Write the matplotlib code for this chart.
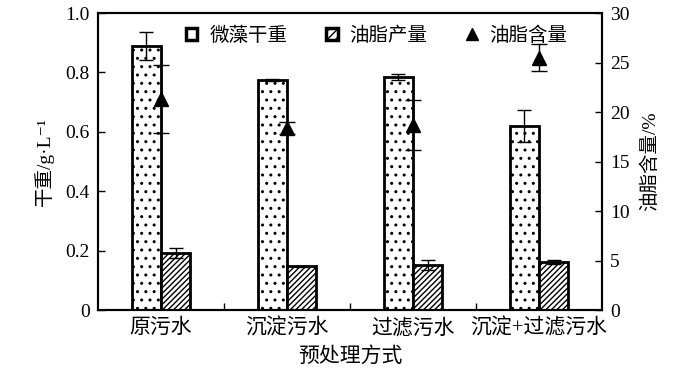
import matplotlib
matplotlib.use("Agg")
import matplotlib.pyplot as plt
import numpy as np
from matplotlib.patches import Patch
from matplotlib.lines import Line2D

plt.rcParams['font.family'] = ['Liberation Serif', 'Noto Sans CJK SC', 'DejaVu Serif']
plt.rcParams['hatch.linewidth'] = 1.0

categories = ['原污水', '沉淀污水', '过滤污水', '沉淀+过滤污水']
dry_weight = [0.89, 0.775, 0.785, 0.62]
dry_weight_err = [0.047, 0.003, 0.01, 0.054]
lipid_prod = [0.192, 0.147, 0.152, 0.162]
lipid_prod_err = [0.018, 0.002, 0.017, 0.007]
lipid_content = [21.3, 18.4, 18.7, 25.5]
lipid_content_err = [3.4, 0.6, 2.5, 1.4]

fig = plt.figure(figsize=(7, 3.76), dpi=100)
ax = fig.add_axes([0.14, 0.1755, 0.72, 0.7899])
x = np.arange(len(categories))
w = 0.234

ax.bar(x - w/2, dry_weight, w, color='white', edgecolor='black', hatch='..',
       linewidth=2.0, yerr=dry_weight_err, capsize=5,
       error_kw=dict(elinewidth=1.0, capthick=1.0, ecolor='black'), zorder=2)
ax.bar(x + w/2, lipid_prod, w, color='white', edgecolor='black', hatch='//////',
       linewidth=2.0, yerr=lipid_prod_err, capsize=5,
       error_kw=dict(elinewidth=1.0, capthick=1.0, ecolor='black'), zorder=2)

ax.set_xlim(-0.5, 3.5)
ax.set_ylim(0, 1.0)
ax.set_yticks([0, 0.2, 0.4, 0.6, 0.8, 1.0])
ax.set_yticklabels(['0', '0.2', '0.4', '0.6', '0.8', '1.0'])
ax.set_xticks(x)
ax.set_xticklabels(categories)
ax.set_xticks([0.5, 1.5, 2.5], minor=True)
ax.tick_params(axis='x', which='major', length=0, labelsize=15, pad=6)
ax.tick_params(axis='x', which='minor', length=5, direction='in', width=1)
ax.tick_params(axis='y', direction='in', length=5, width=1, labelsize=14, pad=6)
for s in ax.spines.values():
    s.set_linewidth(1.5)
ax.set_ylabel('干重/g·L⁻¹', fontsize=14, labelpad=8)
ax.set_xlabel('预处理方式', fontsize=15, labelpad=6)

ax2 = ax.twinx()
ax2.errorbar(x, lipid_content, yerr=lipid_content_err, fmt='^', color='black',
             markersize=10, capsize=6, elinewidth=1.0, capthick=1.0, zorder=3)
ax2.set_ylim(0, 30)
ax2.set_yticks([0, 5, 10, 15, 20, 25, 30])
ax2.tick_params(axis='y', direction='in', length=5, width=1, labelsize=14, pad=6)
ax2.set_ylabel('油脂含量/%', fontsize=14, labelpad=8)
for s in ax2.spines.values():
    s.set_linewidth(1.5)

handles = [Patch(facecolor='white', edgecolor='black', linewidth=2.5),
           Patch(facecolor='white', edgecolor='black', hatch='////', linewidth=2.5),
           Line2D([], [], marker='^', color='black', linestyle='none', markersize=8)]
labels = ['微藻干重', '油脂产量', '油脂含量']
ax.legend(handles, labels, ncol=3, loc='upper center', bbox_to_anchor=(0.553, 1.015),
          frameon=False, fontsize=14, handlelength=0.6, handleheight=0.6,
          handletextpad=0.6, columnspacing=2.0)

fig.savefig('out.png', dpi=100)
